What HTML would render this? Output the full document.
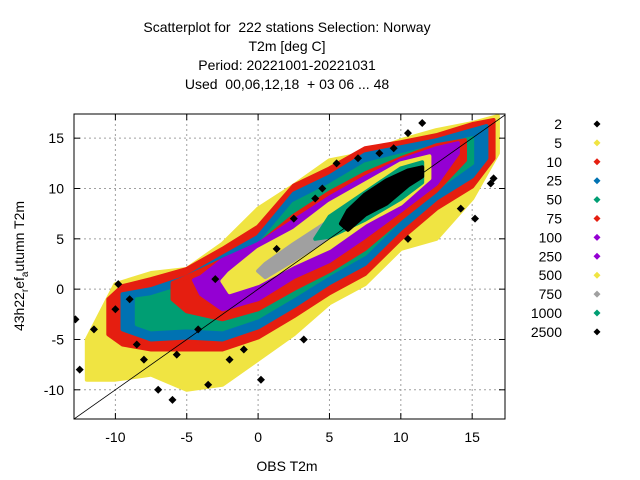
<!DOCTYPE html>
<html><head><meta charset="utf-8"><style>
body{margin:0;background:#fff}
svg{display:block;font-family:"Liberation Sans",sans-serif}
</style></head><body>
<svg id="chart" width="640" height="480" viewBox="0 0 640 480" xmlns="http://www.w3.org/2000/svg">
<rect width="640" height="480" fill="#fff"/>
<g font-size="14" text-anchor="middle" fill="#000">
<text x="287" y="32" xml:space="preserve">Scatterplot for  222 stations Selection: Norway</text>
<text x="287" y="51">T2m [deg C]</text>
<text x="287" y="70">Period: 20221001-20221031</text>
<text x="287" y="89" xml:space="preserve">Used  00,06,12,18  + 03 06 ... 48</text>
</g>
<g id="grid"></g>
<g id="marks"></g>
<g id="axes"></g>
<g id="legend"></g>
<text x="287" y="471" font-size="14" text-anchor="middle">OBS T2m</text>
<text transform="translate(24,266) rotate(-90)" font-size="14" text-anchor="middle">43h22<tspan font-size="10" dy="4">r</tspan><tspan dy="-4">ef</tspan><tspan font-size="10" dy="4">a</tspan><tspan dy="-4">utumn T2m</tspan></text>
</svg>
<script>
const xTicks=[-10,-5,0,5,10,15];
const yTicks=[-10,-5,0,5,10,15];
const legendLabels=["2","5","10","25","50","75","100","250","500","750","1000","2500"];
const legendColors=["#000000","#f0e442","#e51e10","#0072b2","#009e73","#e51e10","#9400d3","#9400d3","#f0e442","#a0a0a0","#009e73","#000000"];
// density bands, outer to inner: x, lower y, upper y
const bandColors=["#f0e442","#e51e10","#0072b2","#009e73","#e51e10","#9400d3","#f0e442","#a0a0a0","#009e73","#000000"];
const bandX=[
 [-12,-10,-7.5,-5,-2.5,0,2.5,5,7.5,10,12.5,15,16.8],
 [-10.5,-9.5,-7.5,-5,-2.5,0,2.5,5,7.5,10,12.5,15,16.5],
 [-9.5,-7.5,-5,-2.5,0,2.5,5,7.5,10,12.5,15,16],
 [-8.5,-7.5,-5,-2.5,0,2.5,5,7.5,10,12.5,15],
 [-6,-5,-2.5,0,2.5,5,7.5,10,12.5,14.5],
 [-4.5,-4,-2.5,0,2.5,5,7.5,10,12.5,14],
 [-2.5,-2,0,2.5,5,7.5,10,12],
 [0,0.5,2.5,5,7.5,10,11.5],
 [4,5,7.5,10,11.5],
 [5.8,6.3,7.5,9,10.5,11.5]
];
const bandLo=[
 [-9,-9,-8.5,-10,-9.5,-7,-4.5,-1.4,0.5,4,5,9,13.5],
 [-4.5,-5.5,-6,-6,-6,-4.8,-2.7,-0.4,1.5,5,8,10.2,13],
 [-4,-5,-4.8,-5,-3.8,-1.7,0.6,2.5,6,9,11.2,13],
 [-3.5,-4,-3.8,-4,-2.8,-0.7,1.5,3.5,7,10,12.5],
 [-1,-2.2,-3,-2,0,1.8,4,7,9.8,12.8],
 [0.9,-0.5,-2,-1,1.2,2.8,5.2,7.8,10.5,13.5],
 [0.8,-0.3,0.6,2.5,4.1,6.6,8.5,11],
 [1.8,1.2,2.9,5.2,7,9.4,11],
 [5,5.2,6.9,9,10.6],
 [6.5,5.9,7.4,8.5,10.3,11.2]
];
const bandHi=[
 [-5,0.5,1.6,2,4.5,8,10.3,12.8,13.5,14.8,15.8,16.5,17.2],
 [-1,0.3,1,2,4,6.2,10.3,12,14,14.6,15.3,16.4,16.8],
 [-0.5,0,1.2,3.2,5.2,9.5,11.2,13.4,14.1,14.8,15.8,16.2],
 [-1,-0.8,0.3,2.3,4.3,8.5,10.3,12.4,13.3,14.2,15],
 [0.6,1.2,2.9,4.4,7.3,9.6,11.5,13,14.3,14.8],
 [0.9,1.2,2.9,4.5,6.8,9.1,11.1,12.8,14,14.5],
 [0.8,1.6,3.9,5.8,8.5,10.5,12.5,13.2],
 [1.8,2.5,4.5,6.8,9,11.7,12.3],
 [5,7.2,9.6,12,12.6],
 [6.5,7.8,9.4,10.8,11.8,12.1]
];
// sparse outliers (level "2")
const outX=[-12.8,-12.5,-11.5,-10,-9.8,-9,-8.5,-7,-6,-4.2,-3.5,-2,-1,0.2,1.3,2.5,4,4.5,5.5,7,8.5,9.5,10.5,11.5,14.2,15.2,16.3,16.5,10.5,-3,3.2,-5.7,-8];
const outY=[-3,-8,-4,-2,0.5,-1,-5.5,-10,-11,-4,-9.5,-7,-6,-9,4,7,9,10,12.5,13,13.5,14,15.5,16.5,8,7,10.5,11,5,1,-5,-6.5,-7];

const X0=-12.9,X1=17.3,Y0=-12.9,Y1=17.4;
const PL=74,PR=505,PT=114,PB=419;
const sx=v=>PL+(v-X0)/(X1-X0)*(PR-PL);
const sy=v=>PB-(v-Y0)/(Y1-Y0)*(PB-PT);
const NS="http://www.w3.org/2000/svg";
function mk(tag,parent,attrs){const e=document.createElementNS(NS,tag);for(const k in attrs)e.setAttribute(k,attrs[k]);parent.appendChild(e);return e;}
const grid=document.getElementById('grid'),marks=document.getElementById('marks'),axes=document.getElementById('axes'),legend=document.getElementById('legend');
xTicks.forEach(t=>{const l=mk('line',grid,{x1:sx(t),x2:sx(t),y1:PT,y2:PB,stroke:'#a0a0a0','stroke-dasharray':'2,3','stroke-width':1});

});
yTicks.forEach(t=>{const l=mk('line',grid,{x1:PL,x2:PR,y1:sy(t),y2:sy(t),stroke:'#a0a0a0','stroke-dasharray':'2,3','stroke-width':1});

});
bandColors.forEach((c,i)=>{
 const xs=bandX[i],lo=bandLo[i],hi=bandHi[i];
 let pts=[];
 for(let j=0;j<xs.length;j++)pts.push(sx(xs[j]).toFixed(1)+','+sy(hi[j]).toFixed(1));
 for(let j=xs.length-1;j>=0;j--)pts.push(sx(xs[j]).toFixed(1)+','+sy(lo[j]).toFixed(1));
 const p=mk('polygon',marks,{points:pts.join(' '),fill:c,stroke:c,'stroke-width':4,'stroke-linejoin':'round'});
 
 
});
function diamond(parent,cx,cy,r,c){return mk('polygon',parent,{points:`${cx},${cy-r} ${cx+r},${cy} ${cx},${cy+r} ${cx-r},${cy}`,fill:c});}
outX.forEach((v,i)=>{const d=diamond(marks,sx(v),sy(outY[i]),4,'#000');
 
 });
const dg=mk('line',marks,{x1:sx(-12.9),y1:sy(-12.9),x2:sx(17.3),y2:sy(17.3),stroke:'#000','stroke-width':0.8});


const clip=mk('clipPath',document.getElementById('chart'),{id:'pc'});mk('rect',clip,{x:PL,y:PT,width:PR-PL,height:PB-PT});
marks.setAttribute('clip-path','url(#pc)');
const fr=mk('rect',axes,{x:PL,y:PT,width:PR-PL,height:PB-PT,fill:'none',stroke:'#000','stroke-width':1});


xTicks.forEach(t=>{mk('line',axes,{x1:sx(t),x2:sx(t),y1:PB,y2:PB-6,stroke:'#000'});mk('line',axes,{x1:sx(t),x2:sx(t),y1:PT,y2:PT+6,stroke:'#000'});
 const tx=mk('text',axes,{x:sx(t),y:PB+23,'font-size':14,'text-anchor':'middle'});tx.textContent=t;
 
 });
yTicks.forEach(t=>{mk('line',axes,{x1:PL,x2:PL+6,y1:sy(t),y2:sy(t),stroke:'#000'});mk('line',axes,{x1:PR,x2:PR-6,y1:sy(t),y2:sy(t),stroke:'#000'});
 const tx=mk('text',axes,{x:PL-10,y:sy(t)+5,'font-size':14,'text-anchor':'end'});tx.textContent=t;
 
 });
legendLabels.forEach((lab,i)=>{const y=124+i*18.9;
 const g=mk('g',legend,{});
 
 
 const t=mk('text',g,{x:562,y:y+5,'font-size':14,'text-anchor':'end'});t.textContent=lab;
 diamond(g,597,y,3.5,legendColors[i]);});
</script>
</body></html>
